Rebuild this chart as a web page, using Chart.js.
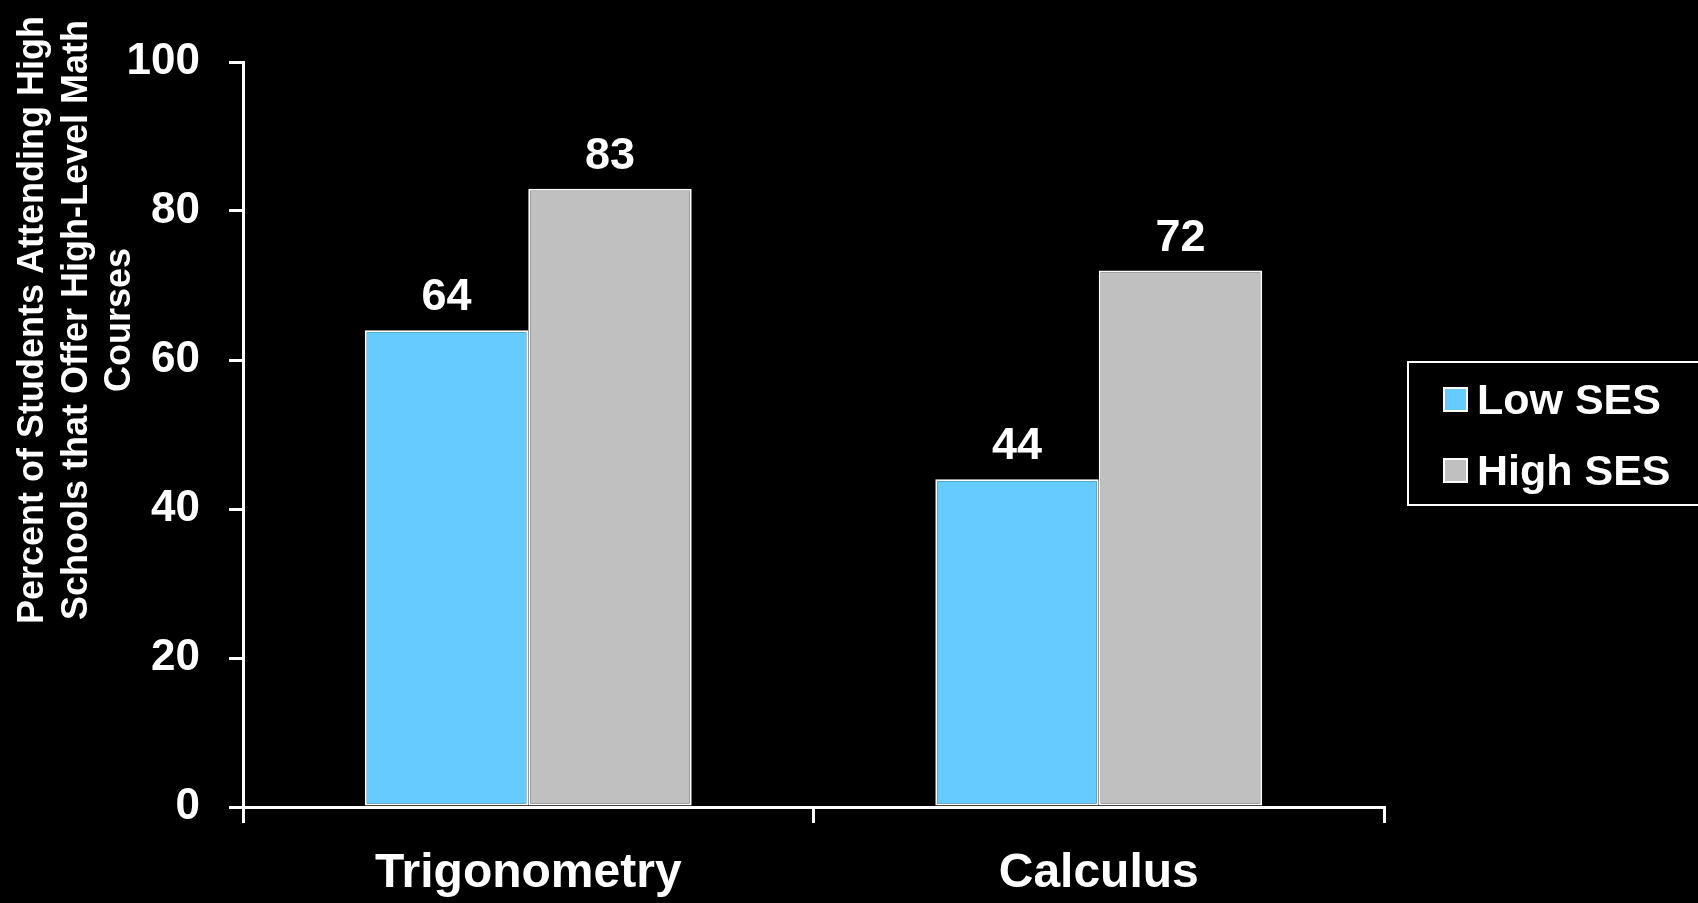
<!DOCTYPE html>
<html>
<head>
<meta charset="utf-8">
<script src="https://cdn.jsdelivr.net/npm/chart.js@4/dist/chart.umd.min.js"></script>
<style>
  html, body { margin: 0; padding: 0; background: #000; overflow: hidden; }
  #wrap { width: 1698px; height: 903px; position: relative; }
</style>
</head>
<body>
<div id="wrap"><canvas id="c" width="1698" height="903"></canvas></div>
<script>
const categories = ['Trigonometry', 'Calculus'];
const seriesNames = ['Low SES', 'High SES'];
const lowSES = [64, 44];
const highSES = [83, 72];
const yMin = 0, yMax = 100, yStep = 20;
const yTitleLines = [
  'Percent of Students Attending High',
  'Schools that Offer High-Level Math',
  'Courses'
];

const FONT = '"Liberation Sans", Arial, Helvetica, sans-serif';
const colors = ['#66CCFF', '#C0C0C0'];

const bgPlugin = {
  id: 'bg',
  beforeDraw(chart) {
    const ctx = chart.ctx;
    ctx.save();
    ctx.fillStyle = '#000';
    ctx.fillRect(0, 0, chart.width, chart.height);
    ctx.restore();
  }
};

const labelsPlugin = {
  id: 'valueLabels',
  afterDatasetsDraw(chart) {
    const ctx = chart.ctx;
    ctx.save();
    ctx.fillStyle = '#fff';
    ctx.font = 'bold 45px ' + FONT;
    ctx.textAlign = 'center';
    ctx.textBaseline = 'alphabetic';
    chart.data.datasets.forEach((ds, di) => {
      const meta = chart.getDatasetMeta(di);
      meta.data.forEach((bar, i) => {
        ctx.fillText(String(ds.data[i]), bar.x, bar.y - 20);
      });
    });
    ctx.restore();
  }
};

const yTitlePlugin = {
  id: 'yTitle',
  afterDraw(chart) {
    const ctx = chart.ctx;
    const baselines = [43, 87, 130];
    ctx.save();
    ctx.fillStyle = '#fff';
    ctx.font = 'bold 36px ' + FONT;
    ctx.textAlign = 'center';
    ctx.textBaseline = 'alphabetic';
    yTitleLines.forEach((line, i) => {
      ctx.save();
      ctx.translate(baselines[i], 320);
      ctx.rotate(-Math.PI / 2);
      ctx.fillText(line, 0, 0);
      ctx.restore();
    });
    ctx.restore();
  }
};

const legendPlugin = {
  id: 'boxLegend',
  afterDraw(chart) {
    const ctx = chart.ctx;
    ctx.save();
    ctx.strokeStyle = '#fff';
    ctx.lineWidth = 2;
    ctx.strokeRect(1408, 362, 320, 143);
    const rows = [400, 471];
    ctx.font = 'bold 43px ' + FONT;
    ctx.textAlign = 'left';
    ctx.textBaseline = 'alphabetic';
    chart.data.datasets.forEach((ds, i) => {
      const cy = rows[i];
      ctx.fillStyle = ds.backgroundColor;
      ctx.fillRect(1444, cy - 12, 23, 23);
      ctx.strokeStyle = '#fff';
      ctx.lineWidth = 2;
      ctx.strokeRect(1444, cy - 12, 23, 23);
      ctx.fillStyle = '#fff';
      ctx.fillText(ds.label, 1477, cy + 14);
    });
    ctx.restore();
  }
};

new Chart(document.getElementById('c'), {
  type: 'bar',
  data: {
    labels: categories,
    datasets: [
      { label: seriesNames[0], data: lowSES, backgroundColor: colors[0], borderColor: '#fff', borderWidth: 2, borderSkipped: false },
      { label: seriesNames[1], data: highSES, backgroundColor: colors[1], borderColor: '#fff', borderWidth: 2, borderSkipped: false }
    ]
  },
  options: {
    responsive: false,
    animation: false,
    devicePixelRatio: 1,
    layout: { padding: { top: 62, right: 314, left: 0, bottom: 0 } },
    datasets: { bar: { categoryPercentage: 0.573, barPercentage: 1.0 } },
    plugins: { legend: { display: false }, tooltip: { enabled: false }, title: { display: false } },
    scales: {
      x: {
        afterFit(s) { s.height = 96; },
        grid: { offset: true, drawOnChartArea: false, color: '#fff', lineWidth: 3, tickLength: 16 },
        border: { color: '#fff', width: 3 },
        ticks: { color: '#fff', font: { family: FONT, size: 48, weight: 'bold' }, padding: 22, maxRotation: 0 }
      },
      y: {
        min: yMin, max: yMax,
        afterFit(s) { s.width = 243; },
        grid: { drawOnChartArea: false, color: '#fff', lineWidth: 3, tickLength: 14 },
        border: { color: '#fff', width: 3 },
        ticks: { stepSize: yStep, color: '#fff', font: { family: FONT, size: 44, weight: 'bold' }, padding: 29 }
      }
    }
  },
  plugins: [bgPlugin, labelsPlugin, yTitlePlugin, legendPlugin]
});
</script>
</body>
</html>
